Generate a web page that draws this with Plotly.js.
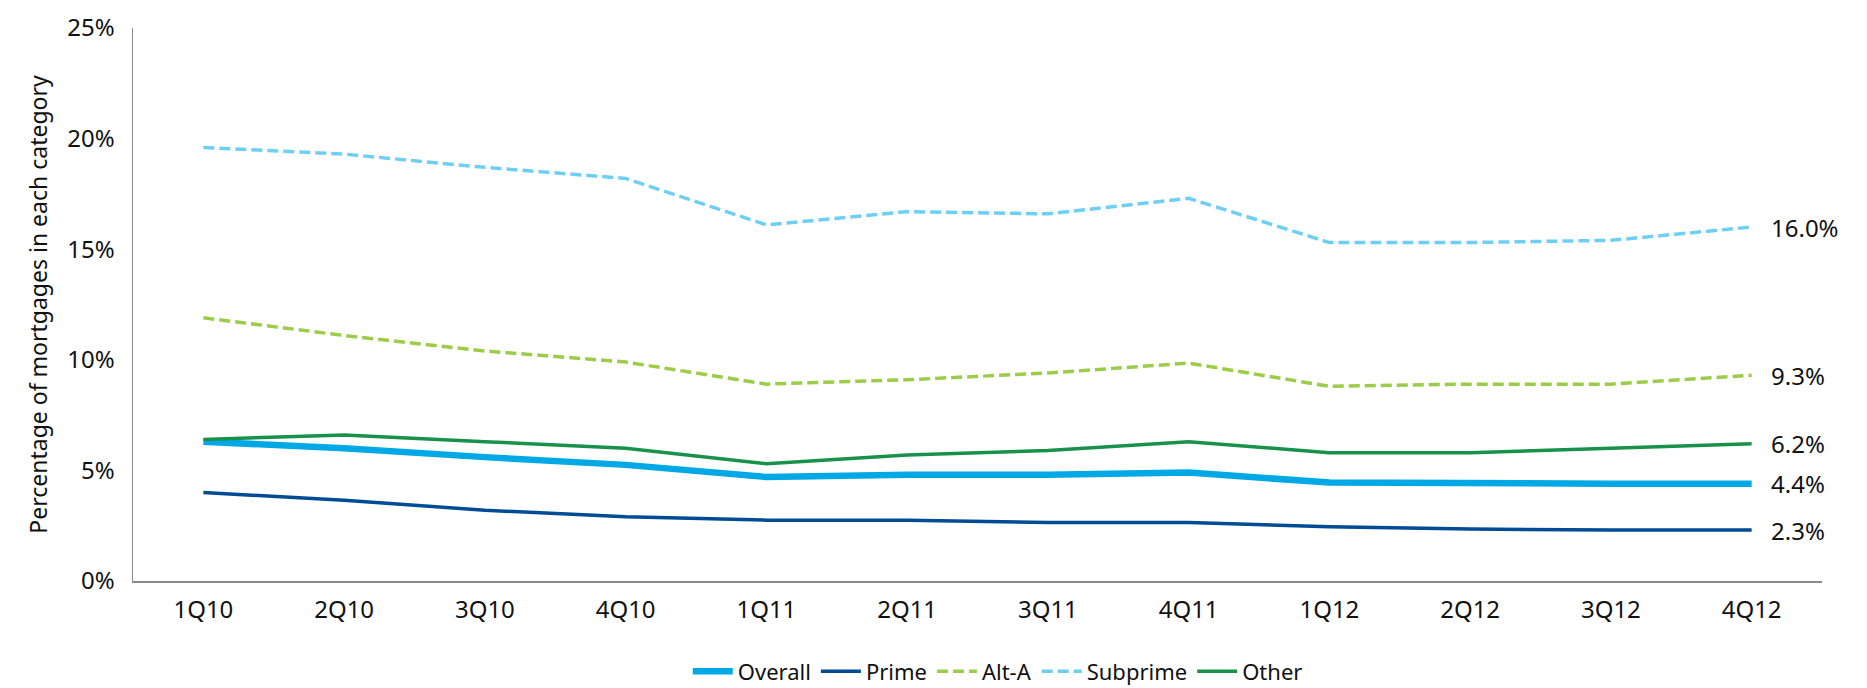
<!DOCTYPE html>
<html>
<head>
<meta charset="utf-8">
<script src="https://cdn.plot.ly/plotly-3.0.1.min.js"></script>
<style>html,body{margin:0;padding:0;background:#fff;}#chart{width:1867px;height:688px;}</style>
</head>
<body>
<div id="chart"></div>
<script>
const quarters = ["1Q10","2Q10","3Q10","4Q10","1Q11","2Q11","3Q11","4Q11","1Q12","2Q12","3Q12","4Q12"];
const overall  = [6.3, 6.0, 5.6, 5.25, 4.7, 4.8, 4.8, 4.9, 4.45, 4.4, 4.4, 4.4];
const prime    = [4.0, 3.65, 3.2, 2.9, 2.75, 2.75, 2.65, 2.65, 2.45, 2.35, 2.3, 2.3];
const altA     = [11.9, 11.1, 10.4, 9.9, 8.9, 9.1, 9.4, 9.85, 8.8, 8.9, 8.9, 9.3];
const subprime = [19.6, 19.3, 18.7, 18.2, 16.1, 16.7, 16.6, 17.3, 15.3, 15.3, 15.4, 16.0];
const other    = [6.4, 6.6, 6.3, 6.0, 5.3, 5.7, 5.9, 6.3, 5.8, 5.8, 6.0, 6.2];
const endLabels = ["16.0%", "9.3%", "6.2%", "4.4%", "2.3%"];
const endValues = [subprime[11], altA[11], other[11], overall[11], prime[11]];
const yTickVals = [0, 5, 10, 15, 20, 25];
const yTickText = ["0%", "5%", "10%", "15%", "20%", "25%"];

const FONT = "Noto Sans, Open Sans, sans-serif";

const traces = [
  {name: "Overall", x: quarters, y: overall, mode: "lines", line: {color: "#00a9e6", width: 6.5}},
  {name: "Prime", x: quarters, y: prime, mode: "lines", line: {color: "#004b96", width: 3.5}},
  {name: "Alt-A", x: quarters, y: altA, mode: "lines", line: {color: "#9ccc48", width: 3.5, dash: "11px,5px"}},
  {name: "Subprime", x: quarters, y: subprime, mode: "lines", line: {color: "#6dcff5", width: 3.5, dash: "11px,5px"}},
  {name: "Other", x: quarters, y: other, mode: "lines", line: {color: "#18924a", width: 3.5}}
];

const annotations = endLabels.map((t, i) => ({
  x: quarters[11], y: endValues[i], xref: "x", yref: "y",
  text: t, showarrow: false, xanchor: "left", yanchor: "middle", xshift: 17,
  font: {family: FONT, size: 24, color: "#111"}
}));

const layout = {
  width: 1867, height: 688,
  margin: {l: 133, r: 45, t: 28, b: 107},
  paper_bgcolor: "#fff", plot_bgcolor: "#fff",
  showlegend: true,
  legend: {orientation: "h", x: 0.512, xanchor: "center", yref: "container", y: 0.024, yanchor: "middle",
           font: {family: FONT, size: 22, color: "#111"}, traceorder: "normal", itemwidth: 40},
  xaxis: {
    type: "category", range: [-0.5, 11.5], automargin: false,
    showline: true, linecolor: "#8a8a8a", linewidth: 1.5,
    showgrid: false, zeroline: false, ticks: "",
    tickfont: {family: FONT, size: 24, color: "#111"},
    ticklabelstandoff: 7
  },
  yaxis: {
    range: [0, 25], tickvals: yTickVals, ticktext: yTickText, automargin: false,
    showline: true, linecolor: "#8a8a8a", linewidth: 1.5,
    showgrid: false, zeroline: false, ticks: "",
    tickfont: {family: FONT, size: 24, color: "#111"},
    ticklabelstandoff: 12,
    title: {text: "Percentage of mortgages in each category", standoff: 13,
            font: {family: FONT, size: 23, color: "#111"}}
  },
  annotations: annotations
};

Plotly.newPlot("chart", traces, layout, {displayModeBar: false, staticPlot: true});
</script>
</body>
</html>
